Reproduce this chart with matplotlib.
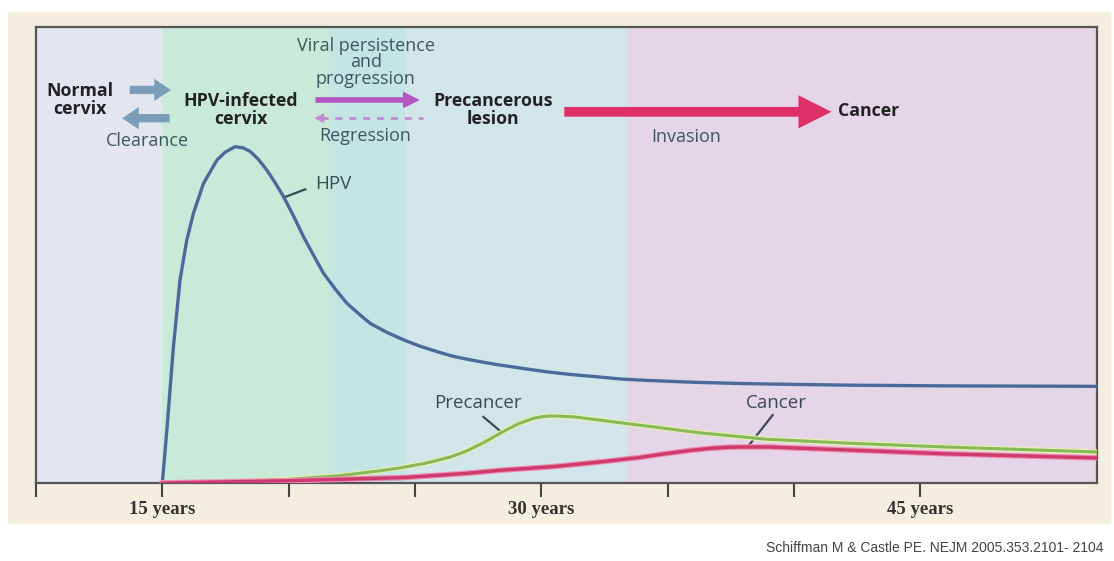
import numpy as np
import matplotlib
matplotlib.use("Agg")
import matplotlib.pyplot as plt
from matplotlib.patches import Rectangle, FancyArrowPatch

# data (age in years, relative level 0-100)
hpv_age = [15.0, 15.18, 15.44, 15.7, 15.97, 16.23, 16.63, 17.16, 17.5, 17.88, 18.2, 18.48,
           18.8, 19.14, 19.45, 19.8, 20.2, 20.59, 21.0, 21.38, 21.85, 22.31, 22.8, 23.23,
           23.9, 24.55, 25.2, 25.88, 26.5, 27.2, 28.2, 29.18, 30.2, 31.16, 32.2, 33.14,
           34.2, 36.0, 38.0, 40.3, 42.3, 46.0, 52.0]
hpv_val = [0, 11.6, 29.9, 44.5, 53.3, 59.1, 65.7, 70.8, 72.6, 73.75, 73.5, 72.7,
           71.0, 68.6, 66.0, 62.8, 58.5, 54.0, 49.8, 46.0, 42.5, 39.4, 37.0, 35.0,
           33.0, 31.4, 30.0, 28.8, 27.8, 27.0, 26.0, 25.2, 24.4, 23.8, 23.3, 22.8,
           22.5, 22.1, 21.8, 21.6, 21.45, 21.3, 21.2]

pre_age = [15, 18, 20, 22, 23.5, 24.4, 25.4, 26.4, 27.0, 27.7, 28.4, 29.1, 29.7, 30.1, 30.5,
           31.3, 32.3, 34.3, 36.3, 38.9, 42.3, 46, 52]
pre_val = [0, 0.3, 0.8, 1.6, 2.6, 3.3, 4.3, 5.7, 6.9, 8.8, 11, 13, 14.2, 14.6, 14.7,
           14.5, 13.8, 12.4, 11, 9.6, 8.7, 7.9, 6.8]

can_age = [15, 20, 24.6, 27.0, 28.4, 30.5, 32.3, 33.9, 35, 36.0, 36.7, 37.4, 38, 39, 42.3, 46, 52]
can_val = [0, 0.5, 1.2, 2.1, 2.8, 3.6, 4.6, 5.6, 6.5, 7.2, 7.6, 7.85, 7.9, 7.9, 7.2, 6.4, 5.5]

tick_pos = [10, 15, 20, 25, 30, 35, 40, 45]
tick_lab = ["", "15 years", "", "", "30 years", "", "", "45 years"]

# background stages: (start, end, colour)
bands = [(10, 15, "#e3e6ef"), (15, 21.6, "#c9ead8"), (21.6, 24.6, "#c3e5e4"),
         (24.6, 33.4, "#d2e6e9"), (33.4, 52, "#e4d6e6")]

fig = plt.figure(figsize=(11.14, 5.61), dpi=100)
fig.patch.set_facecolor("white")
fig.patches.append(Rectangle((8 / 1114, 1 - 523 / 561), 1102 / 1114, 511 / 561,
                             transform=fig.transFigure, color="#f4eee0", zorder=-5))

ax = fig.add_axes([36 / 1114, 1 - 483 / 561, 1061 / 1114, 456 / 561])
ax.set_xlim(10, 52)
ax.set_ylim(0, 100)

for x0, x1, c in bands:
    ax.axvspan(x0, x1, color=c, lw=0, zorder=0)

ax.plot(hpv_age, hpv_val, color="#4b6a9b", lw=2.4, zorder=3, solid_joinstyle="round")
ax.plot(pre_age, pre_val, color="#e9f0b0", lw=3.8, zorder=3, solid_joinstyle="round")
ax.plot(pre_age, pre_val, color="#86b95a", lw=2.2, zorder=3, solid_joinstyle="round")
ax.plot(can_age, can_val, color="#f08ab0", lw=4.0, zorder=3, solid_joinstyle="round")
ax.plot(can_age, can_val, color="#cf3a6e", lw=2.4, zorder=4, solid_joinstyle="round")

for s in ax.spines.values():
    s.set_color("#555555")
    s.set_linewidth(1.6)

ax.set_yticks([])
ax.set_xticks(tick_pos)
ax.set_xticklabels(tick_lab, family="Liberation Serif", fontsize=13.5, color="#333333",
                   fontweight="bold")
ax.tick_params(axis="x", length=10, width=1.5, color="#444444", pad=3)

# curve labels with leaders
lab = dict(fontsize=13.5, color="#3a4a55", family="Open Sans")
ax.text(21.05, 65.5, "HPV", **lab, va="center")
ax.plot([19.8, 20.66], [62.6, 64.4], color="#3a4a55", lw=1.6)
ax.text(27.5, 15.6, "Precancer", **lab, va="bottom", ha="center")
ax.plot([27.71, 28.46], [14.5, 11.0], color="#3a4a55", lw=1.6)
ax.text(39.3, 15.6, "Cancer", **lab, va="bottom", ha="center")
ax.plot([39.16, 38.17], [14.9, 7.9], color="#3a4a55", lw=1.6)

# stage labels
bold = dict(fontsize=12.8, fontweight="bold", color="#222222", family="Open Sans",
            ha="center", va="center", linespacing=1.0)
ax.text(11.75, 84, "Normal\ncervix", **bold)
ax.text(18.1, 81.8, "HPV-infected\ncervix", **bold)
ax.text(28.1, 81.8, "Precancerous\nlesion", **bold)
ax.text(42.95, 81.6, "Cancer", **bold)

thin = dict(fontsize=13, color="#3f5560", family="Open Sans", ha="center", va="center")
ax.text(14.4, 75.0, "Clearance", **thin)
ax.text(23.05, 92.3, "Viral persistence\nand\nprogression", linespacing=0.9, **thin)
ax.text(23.05, 76.0, "Regression", **thin)
ax.text(35.75, 75.8, "Invasion", **thin)

def arrow(x0, x1, y, color, scale, style):
    a = FancyArrowPatch((x0, y), (x1, y), arrowstyle=style, mutation_scale=scale,
                        color=color, lw=0, zorder=5)
    ax.add_patch(a)

arrow(13.6, 15.45, 86.2, "#7b9db9", 10, "simple,head_length=1.2,head_width=1.6,tail_width=0.6")
arrow(15.4, 13.3, 80.0, "#7b9db9", 10, "simple,head_length=1.2,head_width=1.6,tail_width=0.6")
arrow(20.95, 25.3, 84.0, "#b455c2", 10, "simple,head_length=1.2,head_width=1.2,tail_width=0.4")
ax.plot([21.3, 25.3], [80.0, 80.0], color="#c58ad2", lw=2.0, ls=(0, (2.5, 2.5)), zorder=5)
ax.annotate("", xy=(20.9, 80.0), xytext=(21.4, 80.0),
            arrowprops=dict(arrowstyle="-|>,head_length=0.5,head_width=0.25",
                            color="#c58ad2", lw=1.5))
arrow(30.8, 41.6, 81.4, "#de2f6a", 14, "simple,head_length=1.7,head_width=1.7,tail_width=0.5")

fig.text(1104 / 1114, 1 - 548 / 561, "Schiffman M & Castle PE. NEJM 2005.353.2101- 2104",
         ha="right", va="center", fontsize=10, color="#444444", family="Liberation Sans")

fig.savefig("out.png", dpi=100)
